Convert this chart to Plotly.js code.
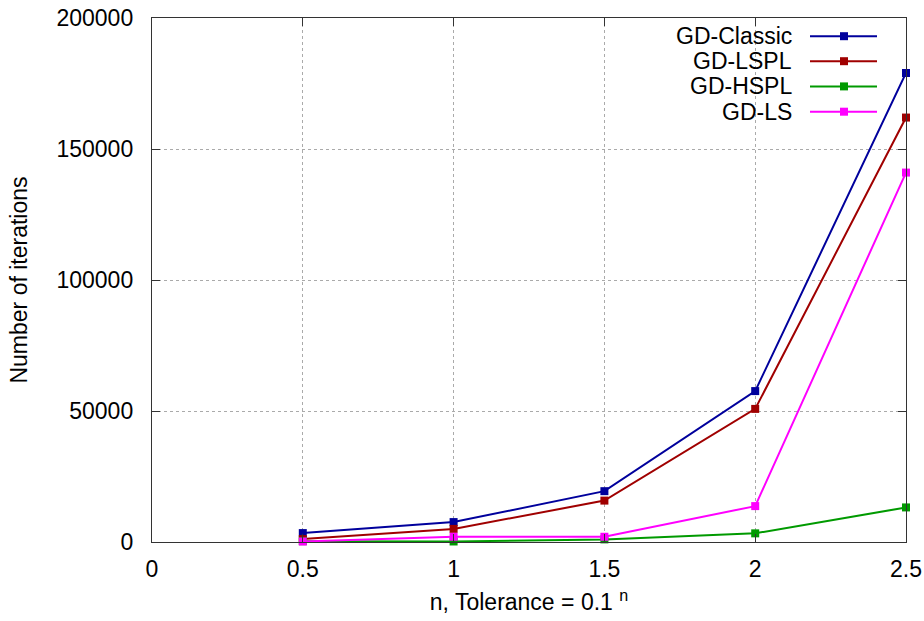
<!DOCTYPE html>
<html>
<head>
<meta charset="utf-8">
<script src="https://cdn.plot.ly/plotly-3.0.1.min.js"></script>
<style>body{margin:0;padding:0;background:#fff}#chart{width:924px;height:621px}</style>
</head>
<body>
<div id="chart"></div>
<script>
const xValues = [0.5, 1, 1.5, 2, 2.5];
const seriesNames = ["GD-Classic", "GD-LSPL", "GD-HSPL", "GD-LS"];
const seriesColors = ["#00009c", "#a00000", "#009a00", "#ff00ff"];
const gdClassic = [3400, 7600, 19400, 57600, 179000];
const gdLSPL = [1100, 5000, 15800, 50800, 162000];
const gdHSPL = [300, 200, 1000, 3300, 13200];
const gdLS = [200, 2000, 2000, 13700, 141000];
const seriesValues = [gdClassic, gdLSPL, gdHSPL, gdLS];
const xTicks = [0, 0.5, 1, 1.5, 2, 2.5];
const yTicks = [0, 50000, 100000, 150000, 200000];

const FONT = "Liberation Sans, Arial, sans-serif";
const FS = 23;
const plotL = 152, plotR = 906, plotT = 18, plotB = 542;
const W = plotR - plotL, H = plotB - plotT;

const traces = seriesValues.map((vals, i) => ({
  x: xValues, y: vals, type: "scatter", mode: "lines+markers",
  name: seriesNames[i],
  line: {color: seriesColors[i], width: 2},
  marker: {symbol: "square", size: 8, color: seriesColors[i]},
  cliponaxis: false,
  showlegend: false
}));

const legendRowsPx = [36.2, 61.2, 86.4, 111.7];
const annotations = [];
const shapes = [];
seriesNames.forEach((n, i) => {
  const yp = (plotB - legendRowsPx[i]) / H;
  annotations.push({
    xref: "paper", yref: "paper", x: (794 - plotL) / W, y: yp,
    xanchor: "right", yanchor: "middle", text: n, showarrow: false,
    font: {family: FONT, size: FS, color: "#000"}
  });
  shapes.push({
    type: "line", xref: "paper", yref: "paper",
    x0: (810 - plotL) / W, x1: (877 - plotL) / W, y0: yp, y1: yp,
    line: {color: seriesColors[i], width: 2}
  });
  shapes.push({
    type: "rect", xref: "paper", yref: "paper",
    xsizemode: "pixel", ysizemode: "pixel",
    xanchor: (844 - plotL) / W, yanchor: yp,
    x0: -4, x1: 4, y0: -4, y1: 4,
    fillcolor: seriesColors[i], line: {width: 0}
  });
});

const layout = {
  width: 924, height: 621,
  margin: {l: plotL, r: 924 - plotR, t: plotT, b: 621 - plotB},
  paper_bgcolor: "#fff", plot_bgcolor: "#fff",
  font: {family: FONT, size: FS, color: "#000"},
  showlegend: false,
  xaxis: {
    range: [0, 2.5], tickvals: xTicks, ticktext: xTicks.map(String),
    showline: true, linecolor: "#333", linewidth: 1.2, mirror: "ticks",
    ticks: "inside", ticklen: 8, tickcolor: "#333",
    showgrid: true, gridcolor: "#aaaaaa", griddash: "dot", gridwidth: 1,
    zeroline: false, tickfont: {family: FONT, size: FS},
    ticklabelstandoff: 6,
    title: {text: "n, Tolerance = 0.1 <sup>n</sup>", font: {family: FONT, size: FS}, standoff: 13}
  },
  yaxis: {
    range: [0, 200000], tickvals: yTicks, ticktext: yTicks.map(String),
    showline: true, linecolor: "#333", linewidth: 1.2, mirror: "ticks",
    ticks: "inside", ticklen: 8, tickcolor: "#333",
    showgrid: true, gridcolor: "#aaaaaa", griddash: "dot", gridwidth: 1,
    zeroline: false, tickfont: {family: FONT, size: FS},
    ticklabelstandoff: 13,
    title: {text: "Number of iterations", font: {family: FONT, size: FS}, standoff: 22}
  },
  annotations: annotations,
  shapes: shapes
};

Plotly.newPlot("chart", traces, layout, {displayModeBar: false, staticPlot: true});
</script>
</body>
</html>
